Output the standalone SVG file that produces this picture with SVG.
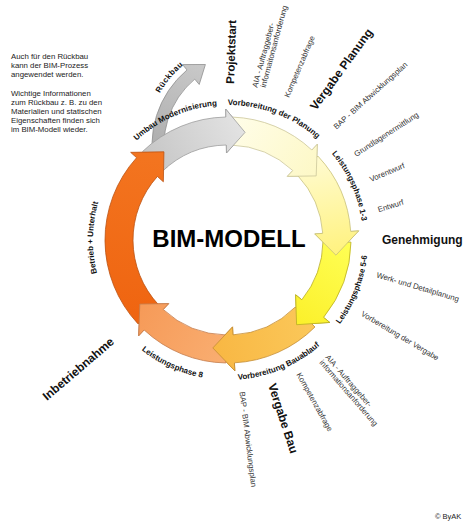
<svg xmlns="http://www.w3.org/2000/svg" width="474" height="523" viewBox="0 0 474 523">
<defs>
<style>
.para{font-family:"Liberation Sans",Arial,sans-serif;font-size:7.8px;fill:#222}
.lbl{font-family:"Liberation Sans",Arial,sans-serif;font-size:7.8px;fill:#333}
.bl{font-family:"Liberation Sans",Arial,sans-serif;font-size:12px;font-weight:bold;fill:#111}
.ring{font-family:"Liberation Sans",Arial,sans-serif;font-size:8px;font-weight:bold;fill:#111}
.ov{stroke-linejoin:round}
</style>
<linearGradient id="gGray" gradientUnits="userSpaceOnUse" x1="150" y1="165" x2="245" y2="120"><stop offset="0" stop-color="#c6c6c6"/><stop offset="1" stop-color="#e4e4e4"/></linearGradient>
<linearGradient id="gCream" gradientUnits="userSpaceOnUse" x1="232" y1="117" x2="316" y2="176"><stop offset="0" stop-color="#fffde9"/><stop offset="1" stop-color="#fdf8c6"/></linearGradient>
<linearGradient id="gPale" gradientUnits="userSpaceOnUse" x1="318" y1="156" x2="336" y2="255"><stop offset="0" stop-color="#fffbd2"/><stop offset="1" stop-color="#fff27e"/></linearGradient>
<linearGradient id="gYel" gradientUnits="userSpaceOnUse" x1="351" y1="242" x2="296" y2="325"><stop offset="0" stop-color="#ffff55"/><stop offset="1" stop-color="#fbf02a"/></linearGradient>
<linearGradient id="gGold" gradientUnits="userSpaceOnUse" x1="315" y1="327" x2="213" y2="348"><stop offset="0" stop-color="#fbc85a"/><stop offset="1" stop-color="#f8b743"/></linearGradient>
<linearGradient id="gLO" gradientUnits="userSpaceOnUse" x1="226" y1="350" x2="140" y2="304"><stop offset="0" stop-color="#f9ad70"/><stop offset="1" stop-color="#f69a58"/></linearGradient>
<linearGradient id="gDO" gradientUnits="userSpaceOnUse" x1="138" y1="324" x2="164" y2="152"><stop offset="0" stop-color="#ef6410"/><stop offset="1" stop-color="#f37520"/></linearGradient>
<linearGradient id="gRb" gradientUnits="userSpaceOnUse" x1="160" y1="170" x2="205" y2="64"><stop offset="0" stop-color="#a9a9a9"/><stop offset="1" stop-color="#c9c9c9"/></linearGradient>
<path id="pcw" d="M228,375 A135,135 0 1 1 228,105 A135,135 0 1 1 228,375"/>
<path id="pccw" d="M88,240 A140,140 0 1 0 368,240 A140,140 0 1 0 88,240"/>
<path id="prb" d="M147.58,163.06 A104,104 0 0 1 268.06,42.58"/>
</defs>
<rect width="474" height="523" fill="#fff"/>

<g id="note">
<text class="para" x="11" y="58.5">Auch für den Rückbau</text>
<text class="para" x="11" y="67.5">kann der BIM-Prozess</text>
<text class="para" x="11" y="76.5">angewendet werden.</text>
<text class="para" x="11" y="96">Wichtige Informationen</text>
<text class="para" x="11" y="105">zum Rückbau z. B. zu den</text>
<text class="para" x="11" y="114">Materialien und statischen</text>
<text class="para" x="11" y="123">Eigenschaften finden sich</text>
<text class="para" x="11" y="132">im BIM-Modell wieder.</text>
</g>

<g id="connectors">
<path id="arrow-rueckbau" d="M155.34,170.36 A98,98 0 0 1 187.01,69.93 L182.51,64.57 L205.4,64.5 L199.22,84.49 L194.72,79.12 A86,86 0 0 0 166.93,167.26 Z" fill="url(#gRb)" stroke="#8f8f8f" stroke-width="0.8" stroke-linejoin="round"/>
<path id="arrow-umbau" d="M142.55,151.53 A123,123 0 0 1 225.85,117.02 L225.71,109.02 L245.05,132.34 L226.48,153.01 L226.34,145.01 A95,95 0 0 0 162,171.67 Z" fill="url(#gGray)" stroke="#9d9d9d" stroke-width="0.8" stroke-linejoin="round"/>
<path id="arrow-planung" d="M232.29,117.07 A123,123 0 0 1 311.89,150.04 L317.34,144.19 L316.18,175.93 L287.33,176.37 L292.79,170.52 A95,95 0 0 0 231.32,145.06 Z" fill="url(#gCream)" stroke="#cbc69a" stroke-width="0.8" stroke-linejoin="round"/>
<path id="arrow-lp13" d="M317.96,156.11 A123,123 0 0 1 350.7,231.41 L358.69,230.86 L335.94,255.17 L314.79,233.93 L322.77,233.37 A95,95 0 0 0 297.48,175.21 Z" fill="url(#gPale)" stroke="#c8c079" stroke-width="0.8" stroke-linejoin="round"/>
<path id="arrow-lp56" d="M350.98,242.15 A123,123 0 0 1 323.58,317.4 L329.8,322.44 L296.59,324.7 L295.61,294.75 L301.82,299.78 A95,95 0 0 0 322.99,241.66 Z" fill="url(#gYel)" stroke="#b9ad25" stroke-width="0.8" stroke-linejoin="round"/>
<path id="arrow-bauablauf" d="M314.97,326.97 A123,123 0 0 1 234.43,362.83 L234.85,370.82 L212.83,347.94 L232.55,326.88 L232.97,334.87 A95,95 0 0 0 295.17,307.17 Z" fill="url(#gGold)" stroke="#c48d34" stroke-width="0.8" stroke-linejoin="round"/>
<path id="arrow-lp8" d="M225.85,362.98 A123,123 0 0 1 144.11,329.96 L138.66,335.81 L139.82,304.07 L168.67,303.63 L163.21,309.48 A95,95 0 0 0 226.34,334.99 Z" fill="url(#gLO)" stroke="#c47c4c" stroke-width="0.8" stroke-linejoin="round"/>
<path id="arrow-betrieb" d="M138.04,323.89 A123,123 0 0 1 136.6,157.7 L130.65,152.35 L163.93,151.82 L163.35,181.79 L157.41,176.44 A95,95 0 0 0 158.52,304.79 Z" fill="url(#gDO)" stroke="#bb5212" stroke-width="0.8" stroke-linejoin="round"/>
<path class="ov" d="M226.34,145.01 L226.48,153.01 L245.05,132.34 L225.71,109.02 L225.85,117.02" fill="url(#gGray)" stroke="#9d9d9d" stroke-width="0.8"/>
<path class="ov" d="M292.79,170.52 L287.33,176.37 L316.18,175.93 L317.34,144.19 L311.89,150.04" fill="url(#gCream)" stroke="#cbc69a" stroke-width="0.8"/>
<path class="ov" d="M322.77,233.37 L314.79,233.93 L335.94,255.17 L358.69,230.86 L350.7,231.41" fill="url(#gPale)" stroke="#c8c079" stroke-width="0.8"/>
<path class="ov" d="M301.82,299.78 L295.61,294.75 L296.59,324.7 L329.8,322.44 L323.58,317.4" fill="url(#gYel)" stroke="#b9ad25" stroke-width="0.8"/>
<path class="ov" d="M232.97,334.87 L232.55,326.88 L212.83,347.94 L234.85,370.82 L234.43,362.83" fill="url(#gGold)" stroke="#c48d34" stroke-width="0.8"/>
<path class="ov" d="M163.21,309.48 L168.67,303.63 L139.82,304.07 L138.66,335.81 L144.11,329.96" fill="url(#gLO)" stroke="#c47c4c" stroke-width="0.8"/>
</g>

<g id="center">
<text x="229" y="247" text-anchor="middle" style="font-family:'Liberation Sans',Arial,sans-serif;font-size:24px;font-weight:bold;fill:#000">BIM-MODELL</text>
</g>

<g id="ring-labels">
<text class="ring" text-anchor="middle"><textPath href="#pcw" startOffset="214.4">Betrieb + Unterhalt</textPath></text>
<text class="ring" text-anchor="middle"><textPath href="#pcw" startOffset="368.3">Umbau Modernisierung</textPath></text>
<text class="ring" text-anchor="middle"><textPath href="#pcw" startOffset="472.7">Vorbereitung der Planung</textPath></text>
<text class="ring" text-anchor="middle"><textPath href="#pcw" startOffset="579.6">Leistungsphase 1-3</textPath></text>
<text class="ring" text-anchor="middle"><textPath href="#pccw" startOffset="386.7">Leistungsphase 5-6</textPath></text>
<text class="ring" text-anchor="middle"><textPath href="#pccw" startOffset="274.9">Vorbereitung Bauablauf</textPath></text>
<text class="ring" text-anchor="middle"><textPath href="#pccw" startOffset="160.3">Leistungsphase 8</textPath></text>
<text class="ring" text-anchor="middle" letter-spacing="0.5"><textPath href="#prb" startOffset="90.8">Rückbau</textPath></text>
</g>

<g id="projektstart">
<text class="bl" style="font-size:11.5px" transform="translate(234,84) rotate(-88)">Projektstart</text>
<text class="lbl" transform="translate(257.2,87.9) rotate(-75)">AIA - Auftraggeber-</text>
<text class="lbl" transform="translate(265.5,87.9) rotate(-75)">informaitonsanforderung</text>
<text class="lbl" transform="translate(289.1,97.9) rotate(-67)">Kompetenzabfrage</text>
</g>

<g id="vergabe-planung">
<text class="bl" transform="translate(316,111) rotate(-54)">Vergabe Planung</text>
<text class="lbl" transform="translate(336.5,129.7) rotate(-42)">BAP - BIM Abwicklungsplan</text>
<text class="lbl" transform="translate(356.3,156.9) rotate(-33)">Grundlagenermittlung</text>
<text class="lbl" transform="translate(370.9,182.1) rotate(-23)">Vorentwurf</text>
<text class="lbl" transform="translate(378.7,212.2) rotate(-17)">Entwurf</text>
</g>

<g id="genehmigung">
<text class="bl" x="382" y="243.5">Genehmigung</text>
<text class="lbl" transform="translate(376,277.2) rotate(16.7)">Werk- und Detailplanung</text>
<text class="lbl" transform="translate(360.5,315.3) rotate(30.8)">Vorbereitung der Vergabe</text>
</g>

<g id="vergabe-bau">
<text class="lbl" transform="translate(325,357.5) rotate(49)">AIA - Auftraggeber-</text>
<text class="lbl" transform="translate(319,362.8) rotate(49)">informationsanforderung</text>
<text class="lbl" transform="translate(296.3,374.4) rotate(61)">Kompetenzabfrage</text>
<text class="bl" transform="translate(268,385) rotate(72)">Vergabe Bau</text>
<text class="lbl" transform="translate(239.5,392) rotate(83)">BAP - BIM Abwicklungsplan</text>
</g>

<g id="inbetriebnahme">
<text class="bl" transform="translate(47,401) rotate(-40.5)">Inbetriebnahme</text>
</g>

<g id="copyright">
<text class="lbl" style="font-size:7.5px;fill:#222" x="435" y="519">© ByAK</text>
</g>
</svg>
